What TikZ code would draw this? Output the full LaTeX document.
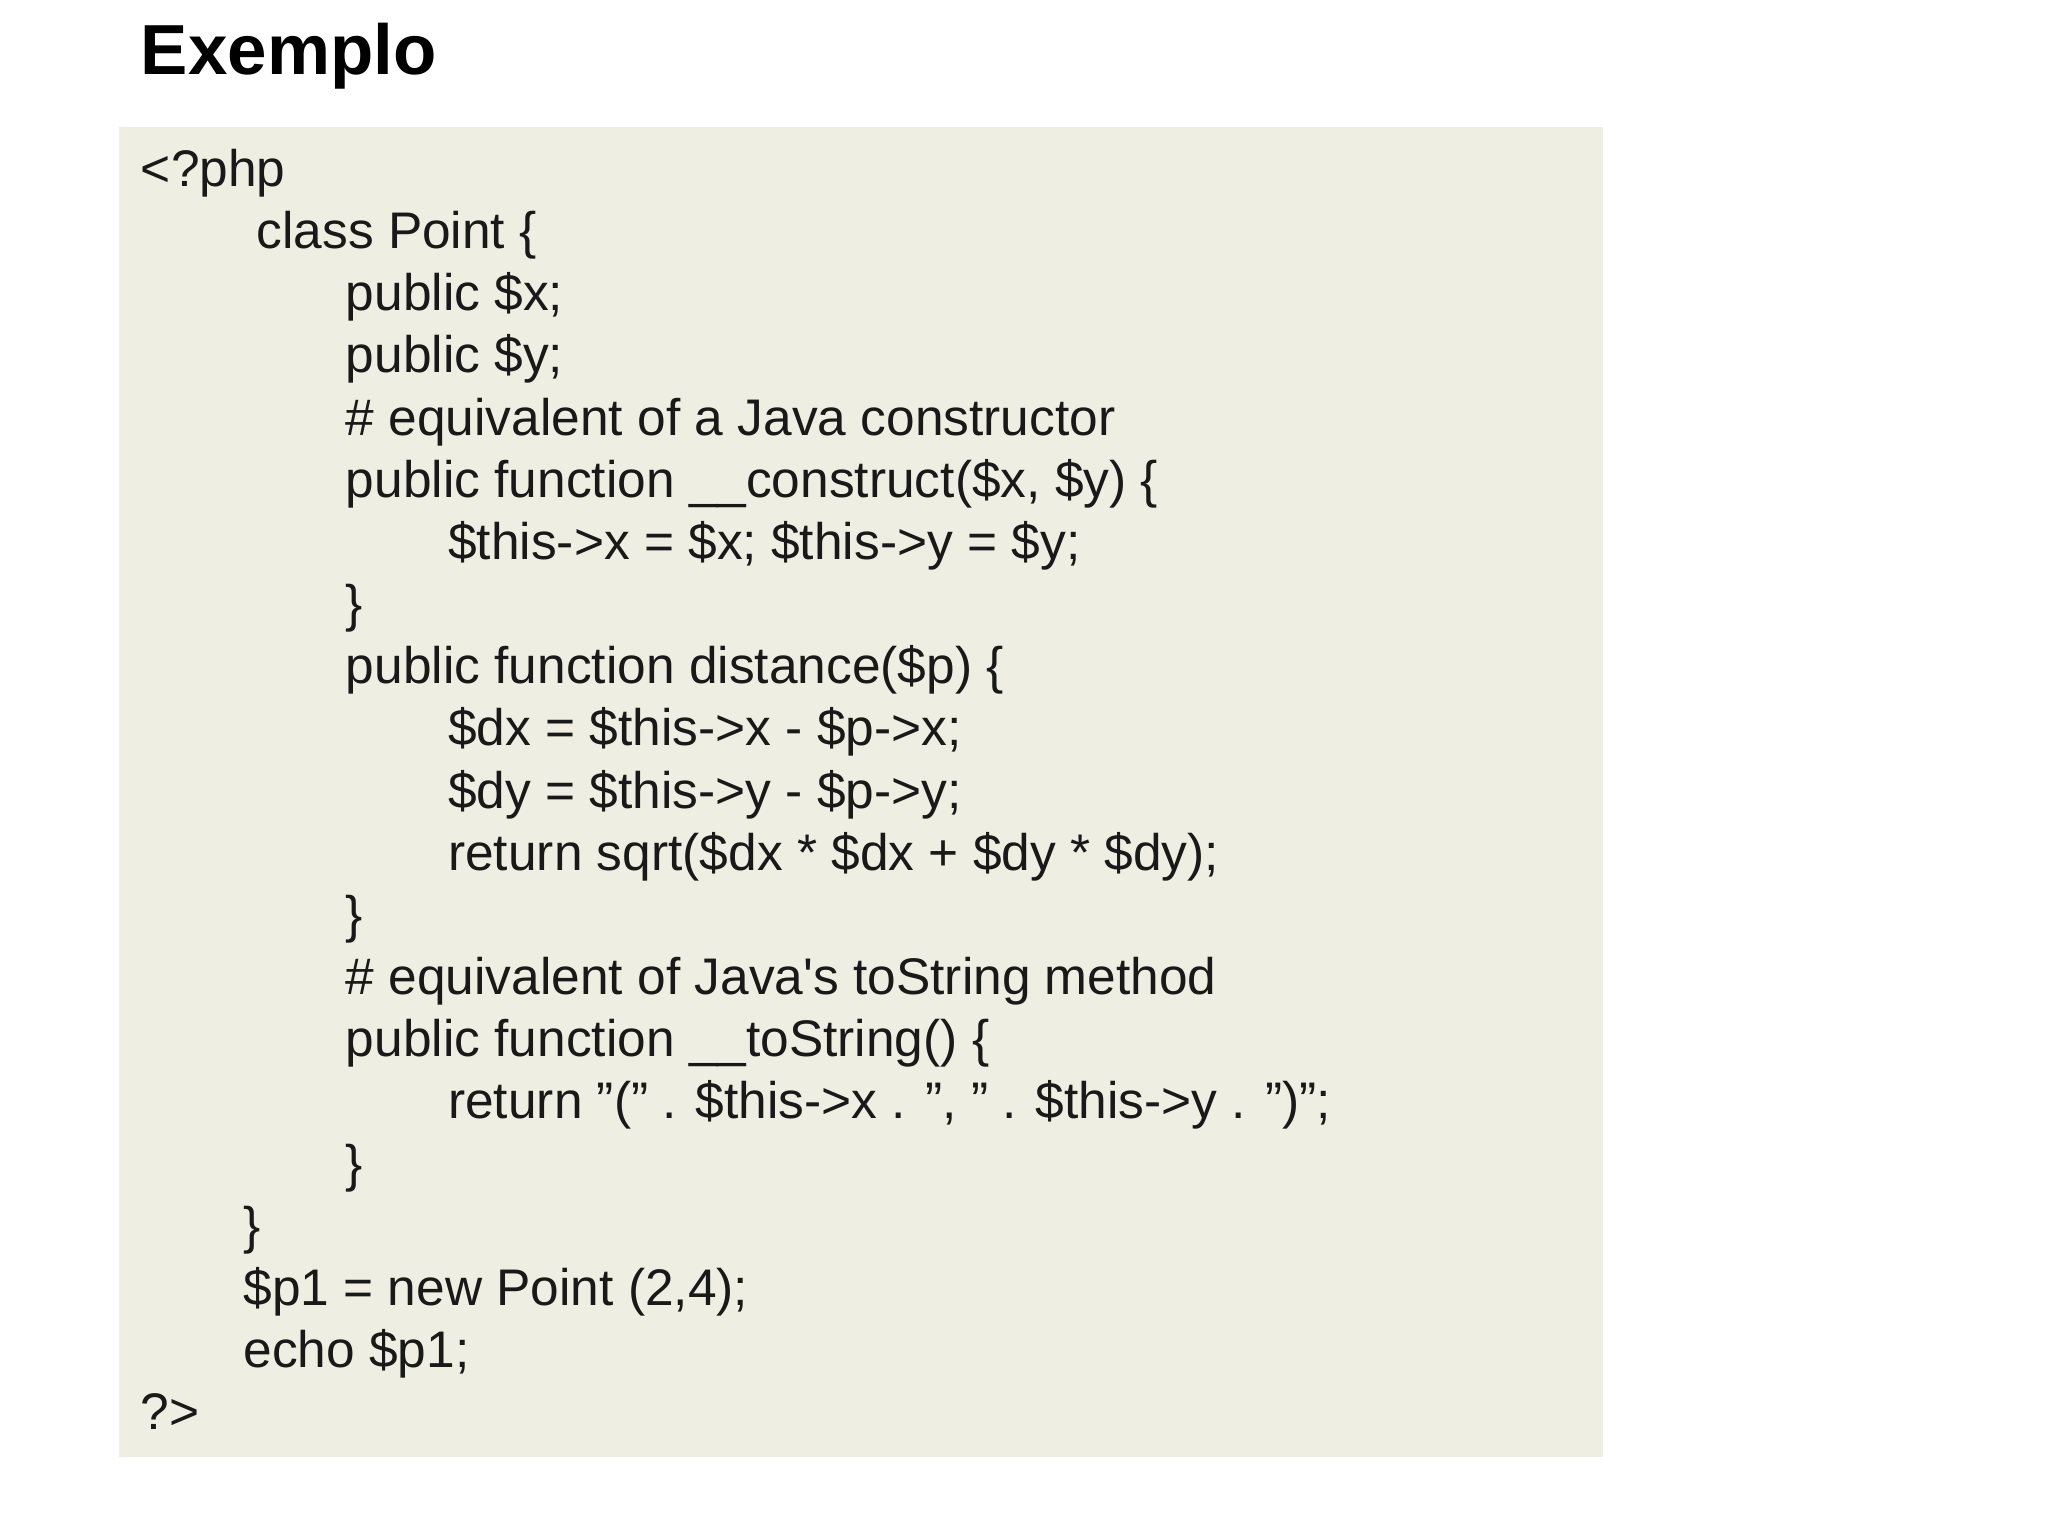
\documentclass[tikz,border=0pt]{standalone}
\usepackage{fontspec}
\setmainfont{Liberation Sans}
\definecolor{codebg}{HTML}{EEEFE2}
\begin{document}
\begin{tikzpicture}[x=0.5pt,y=-0.5pt,
  code/.style={anchor=base west,inner sep=0pt,font=\fontsize{19.6pt}{23pt}\selectfont,text=black!90}]
\useasboundingbox (0,0) rectangle (1560,1170);
\fill[white] (0,0) rectangle (1560,1170);
\node[anchor=base west,inner sep=0pt,font=\fontsize{27pt}{32pt}\selectfont\bfseries] (title) at (107,57) {Exemplo};
\fill[codebg] (91,97) rectangle (1221,1110);
\def\bl#1{142+47.35*#1}
\node[code] (l0) at (107,{\bl0}) {<?php};
\node[code] (l1) at (195,{\bl1}) {class Point \{};
\node[code] (l2) at (263,{\bl2}) {public \$x;};
\node[code] (l3) at (263,{\bl3}) {public \$y;};
\node[code] (l4) at (263,{\bl4}) {\# equivalent of a Java constructor};
\node[code] (l5) at (263,{\bl5}) {public function \_\_construct(\$x, \$y) \{};
\node[code] (l6) at (341,{\bl6}) {\$this->x = \$x; \$this->y = \$y;};
\node[code] (l7) at (263,{\bl7}) {\}};
\node[code] (l8) at (263,{\bl8}) {public function distance(\$p) \{};
\node[code] (l9) at (341,{\bl9}) {\$dx = \$this->x - \$p->x;};
\node[code] (l10) at (341,{\bl{10}}) {\$dy = \$this->y - \$p->y;};
\node[code] (l11) at (341,{\bl{11}}) {return sqrt(\$dx * \$dx + \$dy * \$dy);};
\node[code] (l12) at (263,{\bl{12}}) {\}};
\node[code] (l13) at (263,{\bl{13}}) {\# equivalent of Java\textquotesingle s toString method};
\node[code] (l14) at (263,{\bl{14}}) {public function \_\_toString() \{};
\node[code] (l15) at (341,{\bl{15}}) {return "(" . \$this->x . ", " . \$this->y . ")";};
\node[code] (l16) at (263,{\bl{16}}) {\}};
\node[code] (l17) at (185,{\bl{17}}) {\}};
\node[code] (l18) at (185,{\bl{18}}) {\$p1 = new Point (2,4);};
\node[code] (l19) at (185,{\bl{19}}) {echo \$p1;};
\node[code] (l20) at (107,{\bl{20}}) {?>};
\end{tikzpicture}
\end{document}
